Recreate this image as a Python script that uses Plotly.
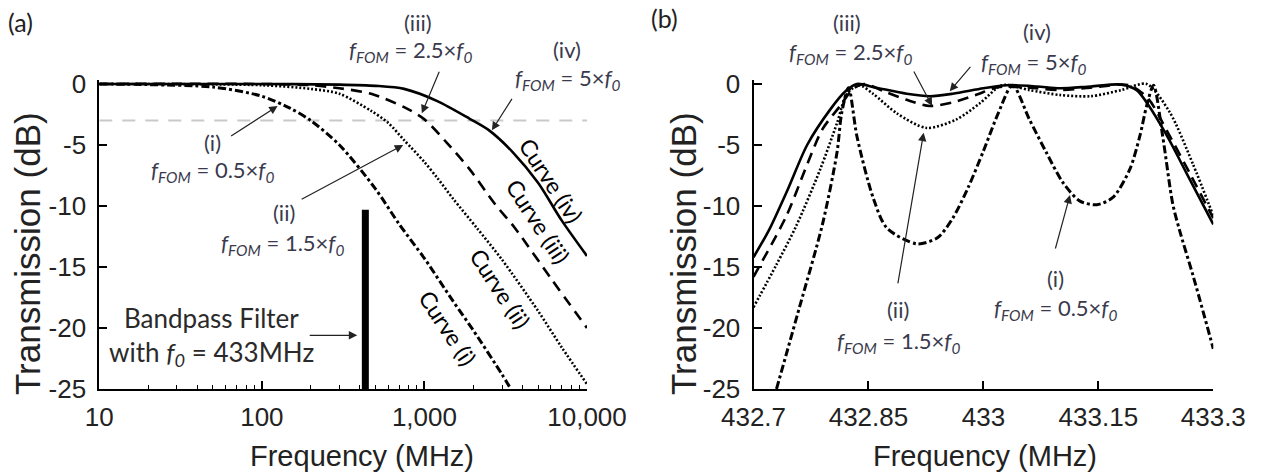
import numpy as np
import plotly.graph_objects as go

W, H = 1264, 476

# ---------------- Panel (a): wideband response vs frequency ----------------
freq_a_i = [10, 20, 50, 100, 150, 200, 300, 500, 700, 1000, 1500, 2000, 3000, 3400]
tx_a_i = [0, -0.05, -0.25, -1.0, -2.0, -3.0, -5.0, -8.6, -11.5, -14.3, -17.8, -20.2, -23.8, -25.0]

freq_a_ii = [10, 100, 200, 300, 470, 600, 750, 1000, 1200, 1500, 2100, 3000, 5000, 7000, 10000]
tx_a_ii = [0, -0.1, -0.4, -0.8, -2.2, -3.2, -4.6, -6.4, -7.7, -9.4, -11.8, -14.4, -18.6, -21.6, -24.6]

freq_a_iii = [10, 100, 200, 300, 470, 750, 1000, 1370, 1900, 2700, 3600, 5900, 10000]
tx_a_iii = [0, 0, -0.1, -0.35, -0.8, -1.9, -2.9, -4.8, -7.0, -9.8, -11.8, -15.8, -20.0]

freq_a_iv = [10, 100, 300, 500, 750, 1200, 1900, 2500, 3500, 5000, 7000, 10000]
tx_a_iv = [0, 0, -0.05, -0.15, -0.4, -1.4, -2.85, -3.8, -5.6, -8.1, -11.2, -14.1]

ref_3db_freq = [10, 10000]
ref_3db_level = [-3, -3]

f0_mhz = 433
f0_bar_db = [-10.3, -25]

a_tickvals = [10, 100, 1000, 10000]
a_ticktext = ["10", "100", "1,000", "10,000"]
a_minor = [20, 30, 40, 50, 60, 70, 80, 90,
           200, 300, 400, 500, 600, 700, 800, 900,
           2000, 3000, 4000, 5000, 6000, 7000, 8000, 9000]

# ---------------- Panel (b): passband detail ----------------
freq_b_i = [432.73, 432.76, 432.79, 432.809, 432.815, 432.824, 432.835, 432.856, 432.874,
            432.913, 432.94, 432.96, 432.98, 433.00, 433.02, 433.038, 433.06, 433.082,
            433.104, 433.126, 433.148, 433.169, 433.191, 433.204, 433.213, 433.222,
            433.234, 433.247, 433.256, 433.274, 433.30]
tx_b_i = [-25, -18.3, -11.5, -5.6, -2.4, -0.3, -4.3, -9.3, -11.8,
          -13.1, -12.6, -11.0, -8.5, -5.5, -2.3, -0.1, -2.9, -5.6,
          -8.1, -9.6, -9.9, -9.3, -7.0, -4.3, -1.8, -0.1,
          -4.3, -9.8, -12.0, -15.8, -21.7]

freq_b_ii = [432.70, 432.73, 432.756, 432.787, 432.809, 432.822, 432.838, 432.856, 432.887,
             432.926, 432.965, 432.995, 433.025, 433.06, 433.10, 433.14, 433.18, 433.213,
             433.243, 433.273, 433.30]
tx_b_ii = [-18.3, -14.8, -11.6, -7.0, -3.2, -0.8, -0.1, -0.8, -2.4,
           -3.6, -2.9, -1.6, -0.1, -0.5, -0.9, -1.0, -0.5, 0,
           -2.3, -6.5, -10.8]

freq_b_iii = [432.70, 432.743, 432.77, 432.79, 432.813, 432.83, 432.845, 432.87, 432.90,
              432.93, 432.96, 432.99, 433.02, 433.06, 433.10, 433.14, 433.19, 433.215,
              433.24, 433.27, 433.30]
tx_b_iii = [-15.8, -10.8, -6.6, -3.7, -1.8, -0.4, 0, -0.6, -1.3,
            -1.8, -1.5, -0.9, -0.25, -0.3, -0.5, -0.3, -0.1, -1.2,
            -3.9, -7.4, -11.0]

freq_b_iv = [432.70, 432.72, 432.745, 432.77, 432.80, 432.82, 432.835, 432.86, 432.90,
             432.93, 432.96, 433.00, 433.03, 433.07, 433.10, 433.14, 433.18, 433.20,
             433.215, 433.24, 433.265, 433.30]
tx_b_iv = [-14.2, -12.0, -8.6, -5.0, -2.1, -0.6, 0, -0.3, -0.8,
           -1.0, -0.8, -0.35, -0.1, -0.2, -0.35, -0.2, -0.05, -0.5,
           -1.7, -4.3, -7.3, -11.5]

b_tickvals = [432.7, 432.85, 433, 433.15, 433.3]
b_ticktext = ["432.7", "432.85", "433", "433.15", "433.3"]

db_tickvals = [0, -5, -10, -15, -20, -25]
db_ticktext = ["0", "-5", "-10", "-15", "-20", "-25"]

# ---------------- styles ----------------
STY_I = dict(color="black", width=3, dash="8px,3px,3px,3px")
STY_II = dict(color="black", width=2.6, dash="2px,2px")
STY_III = dict(color="black", width=2.6, dash="11px,7px")
STY_IV = dict(color="black", width=2.6)

fig = go.Figure()

# reference -3 dB level
fig.add_trace(go.Scatter(x=ref_3db_freq, y=ref_3db_level, mode="lines",
                         line=dict(color="#c9c9c9", width=2, dash="13px,10px"),
                         xaxis="x", yaxis="y", hoverinfo="skip"))
# filter centre frequency marker
fig.add_trace(go.Scatter(x=[f0_mhz, f0_mhz], y=f0_bar_db, mode="lines",
                         line=dict(color="black", width=7),
                         xaxis="x", yaxis="y", hoverinfo="skip"))

for fx, ty, sty in [(freq_a_i, tx_a_i, STY_I), (freq_a_ii, tx_a_ii, STY_II),
                    (freq_a_iii, tx_a_iii, STY_III), (freq_a_iv, tx_a_iv, STY_IV)]:
    fig.add_trace(go.Scatter(x=fx, y=ty, mode="lines", line=dict(shape="spline", smoothing=0.8, **sty),
                             xaxis="x", yaxis="y"))

for fx, ty, sty in [(freq_b_i, tx_b_i, STY_I), (freq_b_ii, tx_b_ii, STY_II),
                    (freq_b_iii, tx_b_iii, STY_III), (freq_b_iv, tx_b_iv, STY_IV)]:
    fig.add_trace(go.Scatter(x=fx, y=ty, mode="lines", line=dict(shape="spline", smoothing=0.8, **sty),
                             xaxis="x2", yaxis="y2"))

# ---------------- axes ----------------
TICKFONT = dict(family="Liberation Sans, Arial, sans-serif", size=26, color="#222")
DB_RANGE = [-25, 0.3]
y_dom = [(H - 389) / H, (H - 80.34) / H]

common_x = dict(ticks="inside", ticklen=8, tickwidth=1.5, tickcolor="black",
                showline=True, linewidth=2, linecolor="black", mirror=False,
                showgrid=False, zeroline=False, tickfont=TICKFONT,
                ticklabelstandoff=4, automargin=False)
common_y = dict(ticks="inside", ticklen=8, tickwidth=1.5, tickcolor="black",
                showline=True, linewidth=2, linecolor="black", mirror=False,
                showgrid=False, zeroline=False, tickfont=TICKFONT,
                range=DB_RANGE, tickvals=db_tickvals, ticktext=db_ticktext,
                ticklabelstandoff=6, domain=y_dom, automargin=False)

fig.update_layout(
    width=W, height=H, margin=dict(l=0, r=0, t=0, b=0, autoexpand=False),
    paper_bgcolor="white", plot_bgcolor="white", showlegend=False,
    xaxis=dict(type="log", range=[1, 4], tickvals=a_tickvals, ticktext=a_ticktext,
               domain=[99.3 / W, 587 / W], anchor="y",
               minor=dict(tickvals=a_minor, ticks="inside", ticklen=4, tickwidth=1,
                          tickcolor="black", showgrid=False),
               **common_x),
    yaxis=dict(anchor="x", **common_y),
    xaxis2=dict(range=[432.7, 433.3], tickvals=b_tickvals, ticktext=b_ticktext,
                domain=[753.5 / W, 1213.3 / W], anchor="y2", **common_x),
    yaxis2=dict(anchor="x2", **common_y),
)


def px(x, y):
    return x / W, 1 - y / H


ANN_FONT = "Lato, Open Sans, sans-serif"
NOTE_COLOR = "#3a3a4c"
annotations = []


def text(x, y, s, size=22, color=NOTE_COLOR, angle=0, family=ANN_FONT):
    xp, yp = px(x, y)
    annotations.append(dict(x=xp, y=yp, xref="paper", yref="paper", text=s, showarrow=False,
                            xanchor="center", yanchor="middle", textangle=angle,
                            font=dict(family=family, size=size, color=color)))


def arrow(x, y, ax, ay, xref, yref):
    annotations.append(dict(x=x, y=y, xref=xref, yref=yref, ax=ax, ay=ay, text="",
                            showarrow=True, arrowhead=2, arrowsize=1.4, arrowwidth=1.2,
                            arrowcolor="#222", standoff=0))


def ffom(k):
    return f"<i>f</i><sub><i>FOM</i></sub> = {k}×<i>f</i><sub><i>0</i></sub>"


# panel letters
text(21, 22, "(a)", size=25, color="#222")
text(664, 18, "(b)", size=25, color="#222")

# axis titles
AX_FONT = "Liberation Sans, Arial, sans-serif"
text(27, 254, "Transmission (dB)", size=35, color="#222", angle=-90, family=AX_FONT)
text(683, 254, "Transmission (dB)", size=35, color="#222", angle=-90, family=AX_FONT)
text(362, 456, "Frequency (MHz)", size=29, color="#222", family=AX_FONT)
text(985, 456, "Frequency (MHz)", size=29, color="#222", family=AX_FONT)

# panel (a) notes
text(418, 22, "(iii)")
text(410, 51, ffom("2.5"))
text(567, 50, "(iv)")
text(567, 79, ffom("5"))
text(212, 142, "(i)")
text(212, 171, ffom("0.5"))
text(284, 213, "(ii)")
text(282, 244, ffom("1.5"))
text(211, 318, "Bandpass Filter", size=26, color="#2a2a2a")
text(211, 353, "with <i>f</i><sub><i>0</i></sub> = 433MHz", size=26, color="#2a2a2a")

arrow(np.log10(125), -1.8, -48, 31, "x", "y")
arrow(np.log10(740), -5.0, -103, 55, "x", "y")
arrow(np.log10(964), -2.4, 18, -43, "x", "y")
arrow(np.log10(2600), -3.8, 21, -33, "x", "y")
arrow(np.log10(386), -20.6, -49, 0, "x", "y")

text(551, 180, "Curve (iv)", size=23, color="black", angle=57)
text(538, 221, "Curve (iii)", size=23, color="black", angle=57)
text(500, 288, "Curve (ii)", size=23, color="black", angle=57)
text(448, 328, "Curve (i)", size=23, color="black", angle=57)

# panel (b) notes
text(847, 22, "(iii)")
text(850, 53, ffom("2.5"))
text(1037, 32, "(iv)")
text(1033, 63, ffom("5"))
text(898, 309, "(ii)")
text(898, 342, ffom("1.5"))
text(1055, 278, "(i)")
text(1055, 309, ffom("0.5"))

arrow(432.933, -1.8, -19, -36, "x2", "y2")
arrow(432.956, -0.6, 22, -26, "x2", "y2")
arrow(432.922, -4.0, -26, 152, "x2", "y2")
arrow(433.113, -9.1, -15, 55, "x2", "y2")

fig.update_layout(annotations=annotations)

fig.write_html("out.html")
